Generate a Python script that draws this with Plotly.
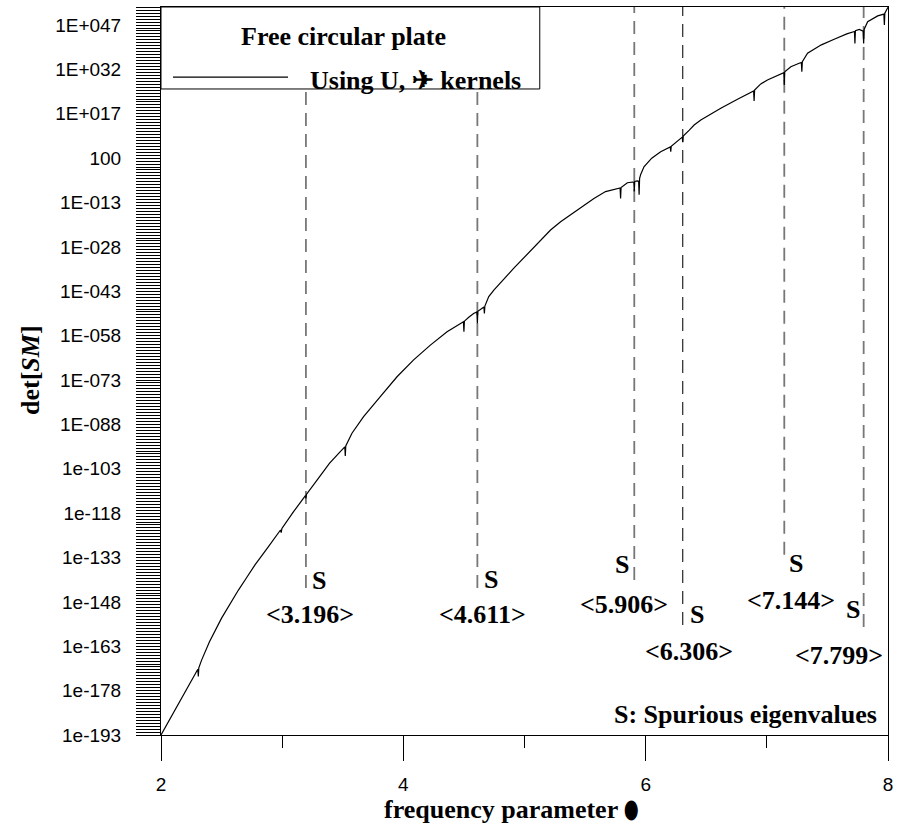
import plotly.graph_objects as go

# ---- data ----
freq = [2.000, 2.100, 2.200, 2.300, 2.304, 2.308, 2.312, 2.336, 2.400, 2.500,
        2.570, 2.639, 2.710, 2.777, 2.887, 2.986, 2.992, 2.998, 3.094, 3.192,
        3.196, 3.200, 3.300, 3.390, 3.470, 3.517, 3.521, 3.525, 3.576, 3.672,
        3.810, 3.948, 4.085, 4.223, 4.361, 4.496, 4.500, 4.504, 4.540, 4.580,
        4.607, 4.611, 4.615, 4.640, 4.665, 4.669, 4.673, 4.705, 4.747, 4.912,
        5.050, 5.215, 5.298, 5.435, 5.573, 5.669, 5.766, 5.789, 5.793, 5.797,
        5.849, 5.902, 5.906, 5.910, 5.930, 5.942, 5.946, 5.950, 5.959, 5.986,
        6.050, 6.124, 6.203, 6.207, 6.211, 6.262, 6.302, 6.306, 6.310, 6.360,
        6.400, 6.455, 6.620, 6.758, 6.891, 6.895, 6.899, 6.950, 7.005, 7.140,
        7.144, 7.148, 7.198, 7.267, 7.285, 7.289, 7.293, 7.336, 7.450, 7.556,
        7.660, 7.723, 7.727, 7.731, 7.763, 7.795, 7.799, 7.803, 7.832, 7.915,
        7.966, 7.970, 7.974, 8.000]
log10_det = [-193.0, -185.7, -178.4, -171.2, -170.8, -173.2, -170.3, -167.6, -161.5, -153.5,
             -148.5, -144.0, -139.6, -135.4, -129.3, -123.7, -124.6, -123.2, -117.5, -112.1,
             -113.0, -111.7, -106.2, -101.2, -97.6, -95.6, -98.7, -95.3, -91.0, -85.4,
             -78.6, -71.9, -66.2, -61.2, -56.7, -53.3, -56.7, -53.1, -51.8, -50.5,
             -50.0, -53.8, -49.8, -49.0, -48.3, -50.5, -48.0, -44.8, -42.6, -35.2,
             -29.3, -22.3, -19.5, -15.5, -11.6, -9.3, -8.2, -8.1, -11.6, -7.9,
             -6.3, -6.0, -9.3, -5.9, -5.7, -5.8, -10.4, -4.8, -3.5, -0.9,
             2.0, 4.2, 5.8, 4.2, 6.0, 7.6, 9.1, 7.4, 9.5, 11.5,
             13.2, 14.9, 18.9, 21.9, 24.7, 21.3, 25.0, 27.1, 28.4, 30.9,
             26.7, 31.2, 32.9, 34.1, 34.3, 31.2, 34.6, 37.5, 40.3, 42.2,
             44.0, 44.8, 40.8, 45.1, 45.5, 44.9, 40.8, 45.5, 48.1, 50.1,
             50.7, 47.0, 51.0, 53.0]

spurious = [3.196, 4.611, 5.906, 6.306, 7.144, 7.799]
spurious_labels = ["3.196", "4.611", "5.906", "6.306", "7.144", "7.799"]

ytick_exps = [-193, -178, -163, -148, -133, -118, -103, -88, -73, -58, -43, -28, -13, 2, 17, 32, 47]
ytick_text = ["1e-193", "1e-178", "1e-163", "1e-148", "1e-133", "1e-118", "1e-103",
              "1E-088", "1E-073", "1E-058", "1E-043", "1E-028", "1E-013", "100",
              "1E+017", "1E+032", "1E+047"]

# ---- styling / layout helpers ----
YMIN, YMAX = -193, 53.1
line_bottoms = [-143.3, -143.3, -140.6, -155.8, -132.1, -156.5]
line_colors = ["#777777", "#777777", "#777777", "#111111", "#777777", "#777777"]
line_widths = [1.8, 1.8, 1.8, 1.1, 1.8, 1.8]
s_pos = [(3.308, -140.8), (4.727, -140.6), (5.807, -135.5), (6.427, -152.4), (7.240, -134.9), (7.708, -150.7)]
v_pos = [(3.231, -152.4), (4.653, -152.4), (5.821, -149.0), (6.358, -164.8), (7.198, -147.4), (7.598, -166.0)]

SERIF = "Times New Roman, Liberation Serif, serif"
SANS = "Arial, Liberation Sans, sans-serif"

fig = go.Figure()

for ev, yb, c, w in zip(spurious, line_bottoms, line_colors, line_widths):
    fig.add_trace(go.Scatter(x=[ev, ev], y=[yb, YMAX], mode="lines",
                             line=dict(color=c, width=w, dash="13px,8px"),
                             showlegend=False, hoverinfo="skip"))

fig.add_trace(go.Scatter(x=freq, y=log10_det, mode="lines",
                         line=dict(color="black", width=1.2),
                         name="Using U, ✈ kernels", showlegend=False))

bold_font = dict(family=SERIF, size=26, color="black")
annotations = []
for (sx, sy), (vx, vy), lab in zip(s_pos, v_pos, spurious_labels):
    annotations.append(dict(x=sx, y=sy, xref="x", yref="y", xanchor="center", yanchor="middle",
                            text="<b>S</b>", showarrow=False, font=bold_font))
    annotations.append(dict(x=vx, y=vy, xref="x", yref="y", xanchor="center", yanchor="middle",
                            text="<b>&lt;" + lab + "&gt;</b>", showarrow=False, font=bold_font))

annotations.append(dict(x=0.9876, y=0.0288, xref="paper", yref="paper", xanchor="right",
                        yanchor="middle", text="<b>S: Spurious eigenvalues</b>", showarrow=False,
                        font=bold_font))
# legend (manual)
annotations.append(dict(x=0.1073, y=0.9588, xref="paper", yref="paper", xanchor="left",
                        yanchor="middle", text="<b>Free circular plate</b>", showarrow=False,
                        font=bold_font))
annotations.append(dict(x=0.2022, y=0.8997, xref="paper", yref="paper", xanchor="left",
                        yanchor="middle", text="<b>Using U, ✈ kernels</b>", showarrow=False,
                        font=bold_font))
# axis titles
annotations.append(dict(x=0.4815, y=-0.103, xref="paper", yref="paper", xanchor="center",
                        yanchor="middle",
                        text="<b>frequency parameter <span style='font-size:23px'>⬮</span></b>",
                        showarrow=False, font=bold_font))
annotations.append(dict(x=-0.1788, y=0.5014, xref="paper", yref="paper", textangle=-90,
                        xanchor="center", yanchor="middle",
                        text="<b>det[<i>SM</i>]</b>", showarrow=False, font=bold_font))

shapes = [
    dict(type="rect", xref="paper", yref="paper", x0=0, x1=0.521, y0=0.8874, y1=1.0,
         line=dict(color="black", width=1), fillcolor="white", layer="above"),
    dict(type="line", xref="paper", yref="paper", x0=0.0165, x1=0.1747, y0=0.9038, y1=0.9038,
         line=dict(color="black", width=1.2), layer="above"),
]

fig.update_layout(
    width=902, height=826, autosize=False,
    margin=dict(l=161, r=14, t=7, b=91, pad=0),
    plot_bgcolor="white", paper_bgcolor="white",
    showlegend=False,
    annotations=annotations, shapes=shapes,
    xaxis=dict(range=[2, 8], tick0=2, dtick=2, ticks="outside", ticklen=25, tickwidth=1,
               tickcolor="black", showline=True, linecolor="black", linewidth=1, mirror=True,
               showgrid=False, zeroline=False, ticklabelstandoff=7,
               tickfont=dict(family=SANS, size=19, color="black"),
               minor=dict(dtick=1, tick0=2, ticks="outside", ticklen=12, tickcolor="black",
                          tickwidth=1, showgrid=False)),
    yaxis=dict(range=[YMIN, YMAX], tickmode="array", tickvals=ytick_exps, ticktext=ytick_text,
               ticks="outside", ticklen=24, tickwidth=1, tickcolor="black",
               showline=True, linecolor="black", linewidth=1, mirror=True,
               showgrid=False, zeroline=False, ticklabelstandoff=11,
               tickfont=dict(family=SANS, size=19, color="black"),
               minor=dict(dtick=1, tick0=-193, ticks="outside", ticklen=24, tickcolor="black",
                          tickwidth=1, showgrid=False)),
)

fig.write_html("out.html")
